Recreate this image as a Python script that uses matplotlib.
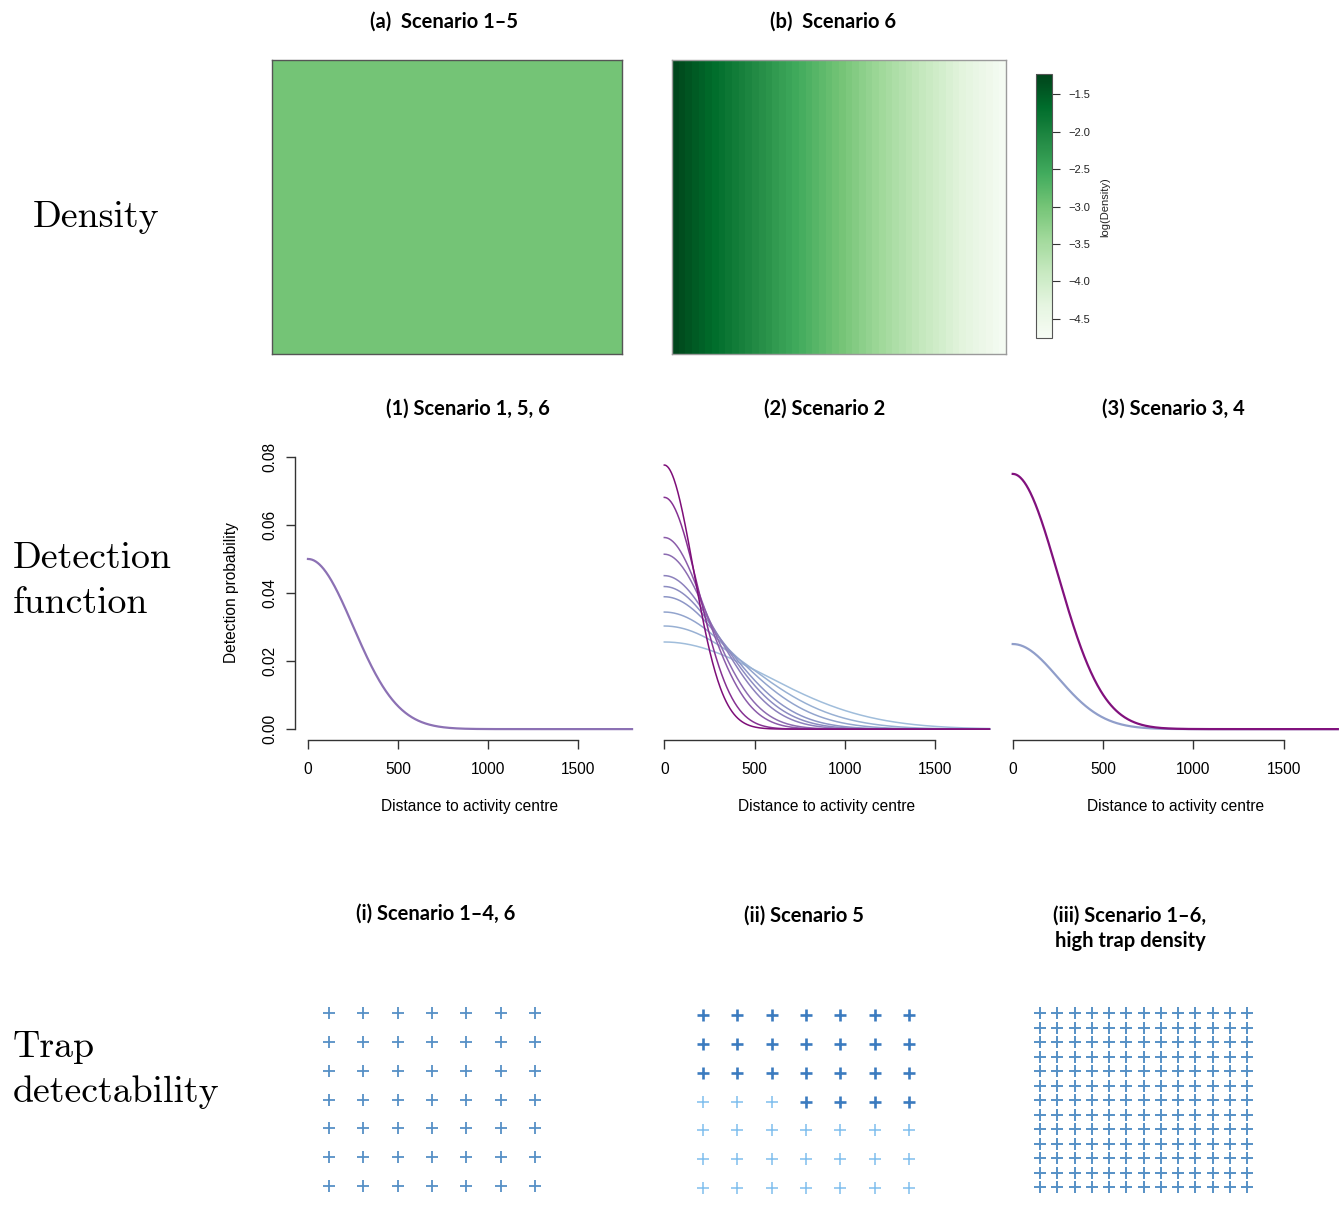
import numpy as np
import matplotlib
matplotlib.use("Agg")
import matplotlib.pyplot as plt
from matplotlib.colors import Normalize

W, H = 1343, 1211

# ---- data -------------------------------------------------------------
# log(Density) surfaces
log_density_a = -3.0
log_density_b = [-1.27, -1.34, -1.41, -1.48, -1.55, -1.62, -1.69, -1.76, -1.83, -1.90,
                 -1.97, -2.04, -2.11, -2.18, -2.25, -2.32, -2.39, -2.46, -2.53, -2.60,
                 -2.67, -2.74, -2.81, -2.88, -2.95, -3.02, -3.09, -3.16, -3.23, -3.30,
                 -3.37, -3.44, -3.51, -3.58, -3.65, -3.72, -3.79, -3.86, -3.93, -4.00,
                 -4.07, -4.14, -4.21, -4.28, -4.35, -4.42, -4.49, -4.56, -4.63, -4.70]
cbar_range = (-4.76, -1.23)
cbar_ticks = [-1.5, -2.0, -2.5, -3.0, -3.5, -4.0, -4.5]

# half-normal detection functions: g0 and sigma
g0_1 = [0.05]
sigma_1 = [250]
g0_2 = [0.0776, 0.0681, 0.0563, 0.0514, 0.0451, 0.0419, 0.0389, 0.0344, 0.0303, 0.0256]
sigma_2 = [161, 187, 232, 257, 299, 325, 354, 407, 470, 569]
g0_3 = [0.075, 0.025]
sigma_3 = [250, 250]
max_dist = 1800

# trap detectability (1 = high, 0 = low), rows top to bottom
traps_i = [[1] * 7 for _ in range(7)]
traps_ii = [[1, 1, 1, 1, 1, 1, 1],
            [1, 1, 1, 1, 1, 1, 1],
            [1, 1, 1, 1, 1, 1, 1],
            [0, 0, 0, 1, 1, 1, 1],
            [0, 0, 0, 0, 0, 0, 0],
            [0, 0, 0, 0, 0, 0, 0],
            [0, 0, 0, 0, 0, 0, 0]]
traps_iii = [[1] * 13 for _ in range(13)]

# ---- helpers ----------------------------------------------------------
def box(x0, y0, x1, y1):
    return [x0 / W, 1 - y1 / H, (x1 - x0) / W, (y1 - y0) / H]


def ftext(x, y, s, **kw):
    fig.text(x / W, 1 - y / H, s, **kw)


TITLE = dict(family="Lato", fontweight="bold", fontsize=14.5, ha="center", va="center")
ROW = dict(family="cmr10", fontsize=27.3, ha="left", va="center", linespacing=1.42)
SANS = "Liberation Sans"
FS = 11.2

fig = plt.figure(figsize=(W / 100, H / 100), dpi=100)

# ---- density row ------------------------------------------------------
cmap = plt.get_cmap("Greens")
norm = Normalize(*cbar_range)

ax_a = fig.add_axes(box(272, 60, 622, 354))
ax_a.imshow([[log_density_a]], cmap=cmap, norm=norm, aspect="auto")
ax_b = fig.add_axes(box(672, 60, 1006, 354))
im = ax_b.imshow([log_density_b], cmap=cmap, norm=norm, aspect="auto",
                 interpolation="nearest")
for ax, ec in ((ax_a, "#555555"), (ax_b, "#9a9a9a")):
    ax.set_xticks([])
    ax.set_yticks([])
    for s in ax.spines.values():
        s.set_color(ec)
        s.set_linewidth(1)

cax = fig.add_axes(box(1036, 74.3, 1052, 338.3))
cb = fig.colorbar(im, cax=cax, ticks=cbar_ticks)
cb.outline.set_edgecolor("#555555")
cb.outline.set_linewidth(0.8)
cax.tick_params(length=6, width=0.8, color="#333333", labelsize=8, pad=6)
for t in cax.get_yticklabels():
    t.set_family(SANS)
    t.set_color("#222222")
ftext(1105, 207, "log(Density)", family=SANS, fontsize=8, rotation=90,
      ha="center", va="center", color="#222222")

ftext(444, 22, "(a)  Scenario 1\u20135", **TITLE)
ftext(833, 22, "(b)  Scenario 6", **TITLE)
ftext(33, 217, "Density", **ROW)

# ---- detection function row -------------------------------------------
d = np.linspace(0, max_dist, 500)
bupu = plt.get_cmap("BuPu")


def g0_colour(g0, lo, hi):
    return bupu(lo + (hi - lo) * (g0 - 0.0256) / (0.0776 - 0.0256))


panels = [
    (box(295, 446, 645, 740), g0_1, sigma_1, 1.6, (0.37, 0.88), "(1) Scenario 1, 5, 6"),
    (box(651.3, 446, 1002.4, 740), g0_2, sigma_2, 1.1, (0.37, 0.88), "(2) Scenario 2"),
    (box(999.7, 446, 1350.8, 740), g0_3, sigma_3, 1.6, (0.48, 0.89), "(3) Scenario 3, 4"),
]
for i, (rect, g0s, sigmas, lw, crange, title) in enumerate(panels):
    ax = fig.add_axes(rect)
    order = sorted(range(len(g0s)), key=lambda k: g0s[k])
    for k in order:
        p = g0s[k] * np.exp(-d ** 2 / (2 * sigmas[k] ** 2))
        ax.plot(d, p, color=g0_colour(g0s[k], *crange), lw=lw, clip_on=False)
    ax.set_xlim(-72, 1872)
    ax.set_ylim(-0.0032, 0.0832)
    ax.set_xticks([0, 500, 1000, 1500])
    ax.spines["top"].set_visible(False)
    ax.spines["right"].set_visible(False)
    ax.spines["bottom"].set_bounds(0, 1500)
    ax.spines["bottom"].set_color("#333333")
    ax.spines["bottom"].set_linewidth(1)
    ax.tick_params(axis="x", length=6.5, width=1, color="#333333", pad=9,
                   labelsize=FS)
    if i == 0:
        ax.set_yticks([0, 0.02, 0.04, 0.06, 0.08])
        ax.set_yticklabels(["0.00", "0.02", "0.04", "0.06", "0.08"])
        ax.spines["left"].set_bounds(0, 0.08)
        ax.spines["left"].set_color("#333333")
        ax.spines["left"].set_linewidth(1)
        ax.tick_params(axis="y", length=6.5, width=1, color="#333333", pad=6,
                       labelsize=FS, labelrotation=90)
        for t in ax.get_yticklabels():
            t.set_va("center")
        ax.set_ylabel("Detection probability", family=SANS, fontsize=FS,
                      labelpad=17)
    else:
        ax.spines["left"].set_visible(False)
        ax.set_yticks([])
    for t in ax.get_xticklabels() + ax.get_yticklabels():
        t.set_family(SANS)
    ax.set_xlabel("Distance to activity centre", family=SANS, fontsize=FS,
                  labelpad=16.5)
    ax.patch.set_alpha(0)
    cx = (rect[0] + rect[2] / 2) * W
    ftext(cx - 2, 409, title, **TITLE)

ftext(13, 581, "Detection\nfunction", **ROW)

# ---- trap detectability row -------------------------------------------
hi_col, lo_col, mid_col = "#3b7bbf", "#80bfee", "#5690c6"


def trap_panel(x0, x1, y0, y1, grid, styles):
    n = len(grid)
    sx = (x1 - x0) / (n - 1)
    sy = (y1 - y0) / (n - 1)
    ax = fig.add_axes(box(x0 - sx / 2, y0 - sy / 2, x1 + sx / 2, y1 + sy / 2))
    g = np.array(grid)
    rows, cols = np.indices(g.shape)
    for level, (col, ms, mew) in styles.items():
        m = g == level
        ax.plot(cols[m], rows[m], "+", color=col, ms=ms, mew=mew, ls="none")
    ax.set_xlim(-0.5, n - 0.5)
    ax.set_ylim(n - 0.5, -0.5)
    ax.axis("off")


trap_panel(329, 535, 1013, 1186, traps_i, {1: (mid_col, 8.5, 1.3)})
trap_panel(703, 909, 1015, 1188, traps_ii,
           {1: (hi_col, 9, 1.9), 0: (lo_col, 8.5, 1.1)})
trap_panel(1040, 1247, 1013, 1187, traps_iii, {1: (mid_col, 8, 1.4)})

ftext(436, 914, "(i) Scenario 1\u20134, 6", **TITLE)
ftext(804, 916, "(ii) Scenario 5", **TITLE)
ftext(1130, 928, "(iii) Scenario 1\u20136,\nhigh trap density", linespacing=1.35,
      **TITLE)
ftext(13, 1070, "Trap\ndetectability", **ROW)

fig.savefig("out.png", dpi=100)
